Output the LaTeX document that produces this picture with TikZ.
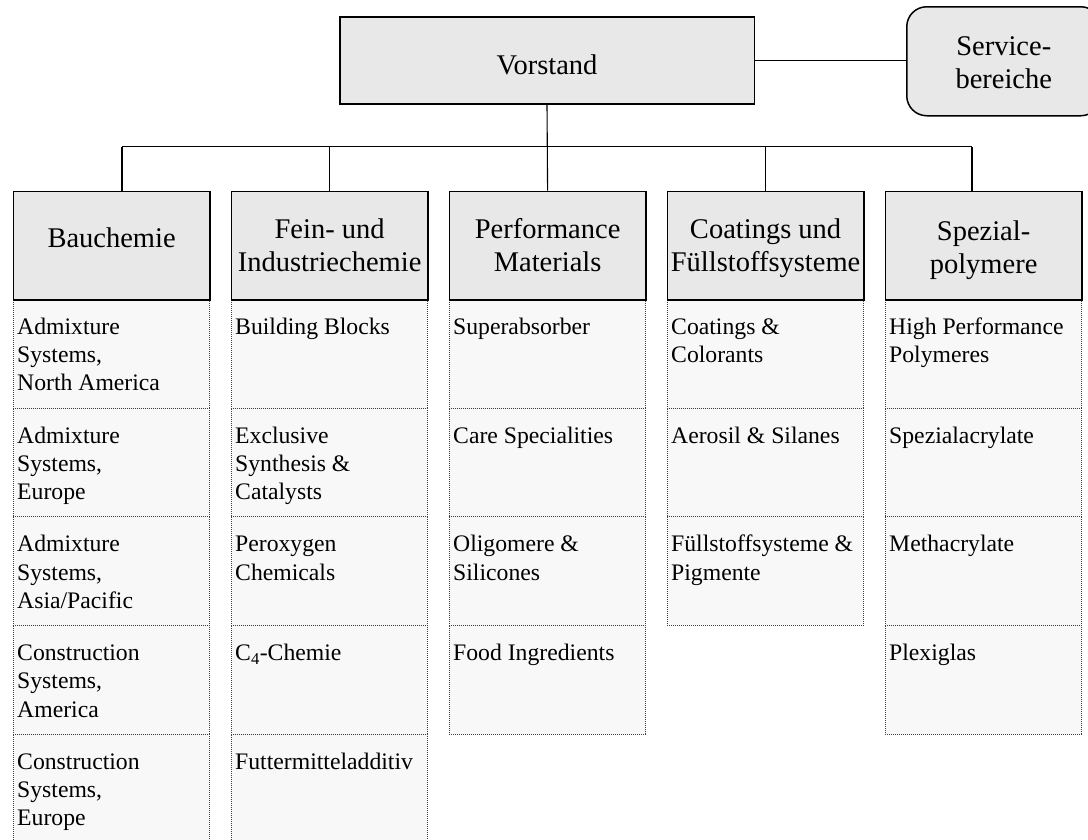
\documentclass[tikz,border=0pt]{standalone}
\usepackage{fontspec}
\setmainfont{Liberation Serif}
\definecolor{boxgray}{HTML}{E8E8E8}
\definecolor{subgray}{HTML}{F8F8F8}
% text block of fixed size: first baseline #3 below the top edge
\newcommand\ctrtext[4]{\parbox[c][#1][t]{#2}{\centering\rule{0pt}{#3}#4}}
\newcommand\unittext[1]{\parbox[c][108.7pt][t]{188pt}{\raggedright\rule{0pt}{35pt}#1}}
\begin{document}
\begin{tikzpicture}[x=1pt,y=-1pt,
  conn/.style={line width=1.1pt},
  orgbox/.style={draw, line width=1.5pt, fill=boxgray, inner sep=0pt, anchor=north west},
  headbox/.style={orgbox, minimum width=196.3pt, minimum height=108.5pt,
    font=\fontsize{28.5pt}{33pt}\selectfont},
  unitbox/.style={draw=black!75, line width=0.7pt, dash pattern=on 1pt off 1pt,
    fill=subgray, inner xsep=4.15pt, inner ysep=0pt, anchor=north west,
    minimum width=196.3pt, minimum height=108.7pt,
    font=\fontsize{23.7pt}{28.3pt}\selectfont}]
\useasboundingbox (0,0) rectangle (1088,839);

% ---- units below each division
\node[unitbox] (u11) at (12.7,299)   {\unittext{Admixture\\Systems,\\North America}};
\node[unitbox] (u12) at (12.7,407.7) {\unittext{Admixture\\Systems,\\Europe}};
\node[unitbox] (u13) at (12.7,516.4) {\unittext{Admixture\\Systems,\\Asia/Pacific}};
\node[unitbox] (u14) at (12.7,625.1) {\unittext{Construction\\Systems,\\America}};
\node[unitbox] (u15) at (12.7,733.8) {\unittext{Construction\\Systems,\\Europe}};

\node[unitbox] (u21) at (230.7,299)   {\unittext{Building Blocks}};
\node[unitbox] (u22) at (230.7,407.7) {\unittext{Exclusive\\Synthesis \&\\Catalysts}};
\node[unitbox] (u23) at (230.7,516.4) {\unittext{Peroxygen\\Chemicals}};
\node[unitbox] (u24) at (230.7,625.1) {\unittext{C\textsubscript{4}-Chemie}};
\node[unitbox] (u25) at (230.7,733.8) {\unittext{Futtermitteladditiv}};

\node[unitbox] (u31) at (448.7,299)   {\unittext{Superabsorber}};
\node[unitbox] (u32) at (448.7,407.7) {\unittext{Care Specialities}};
\node[unitbox] (u33) at (448.7,516.4) {\unittext{Oligomere \&\\Silicones}};
\node[unitbox] (u34) at (448.7,625.1) {\unittext{Food Ingredients}};

\node[unitbox] (u41) at (666.7,299)   {\unittext{Coatings \&\\Colorants}};
\node[unitbox] (u42) at (666.7,407.7) {\unittext{Aerosil \& Silanes}};
\node[unitbox] (u43) at (666.7,516.4) {\unittext{Füllstoffsysteme \&\\Pigmente}};

\node[unitbox] (u51) at (884.7,299)   {\unittext{High Performance\\Polymeres}};
\node[unitbox] (u52) at (884.7,407.7) {\unittext{Spezialacrylate}};
\node[unitbox] (u53) at (884.7,516.4) {\unittext{Methacrylate}};
\node[unitbox] (u54) at (884.7,625.1) {\unittext{Plexiglas}};

% ---- divisions
\node[headbox] (h1) at (12.7,190.5)  {\ctrtext{108.5pt}{194pt}{56.5pt}{Bauchemie}};
\node[headbox] (h2) at (230.7,190.5) {\ctrtext{108.5pt}{194pt}{47.5pt}{Fein- und\\Industriechemie}};
\node[headbox] (h3) at (448.7,190.5) {\ctrtext{108.5pt}{194pt}{47.5pt}{Performance\\Materials}};
\node[headbox] (h4) at (666.7,190.5) {\ctrtext{108.5pt}{194pt}{47.5pt}{Coatings und\\Füllstoffsysteme}};
\node[headbox] (h5) at (884.7,190.5) {\ctrtext{108.5pt}{194pt}{49pt}{Spezial-\\polymere}};

% ---- board and service units
\node[orgbox, minimum width=414.5pt, minimum height=87pt,
  font=\fontsize{28.5pt}{33pt}\selectfont] (vor) at (339,16)
  {\ctrtext{87pt}{400pt}{58pt}{Vorstand}};
\node[orgbox, rounded corners=20pt, minimum width=194pt, minimum height=109pt,
  font=\fontsize{28.5pt}{32.5pt}\selectfont] (svc) at (906,6)
  {\ctrtext{109pt}{190pt}{49pt}{Service-\\bereiche}};

% ---- connectors
\coordinate (busL) at (122,146.5);
\coordinate (busR) at (972,146.5);
\draw[conn] (vor.east) -- (vor.east -| svc.west);
\draw[conn] (vor.south) -- (h3.north);
\draw[conn] (busL) -- (busR);
\draw[conn] (busL) -- (busL |- h1.north);
\draw[conn] (h2.north |- busL) -- (h2.north);
\draw[conn] (h4.north |- busL) -- (h4.north);
\draw[conn] (busR) -- (busR |- h5.north);
\end{tikzpicture}
\end{document}
